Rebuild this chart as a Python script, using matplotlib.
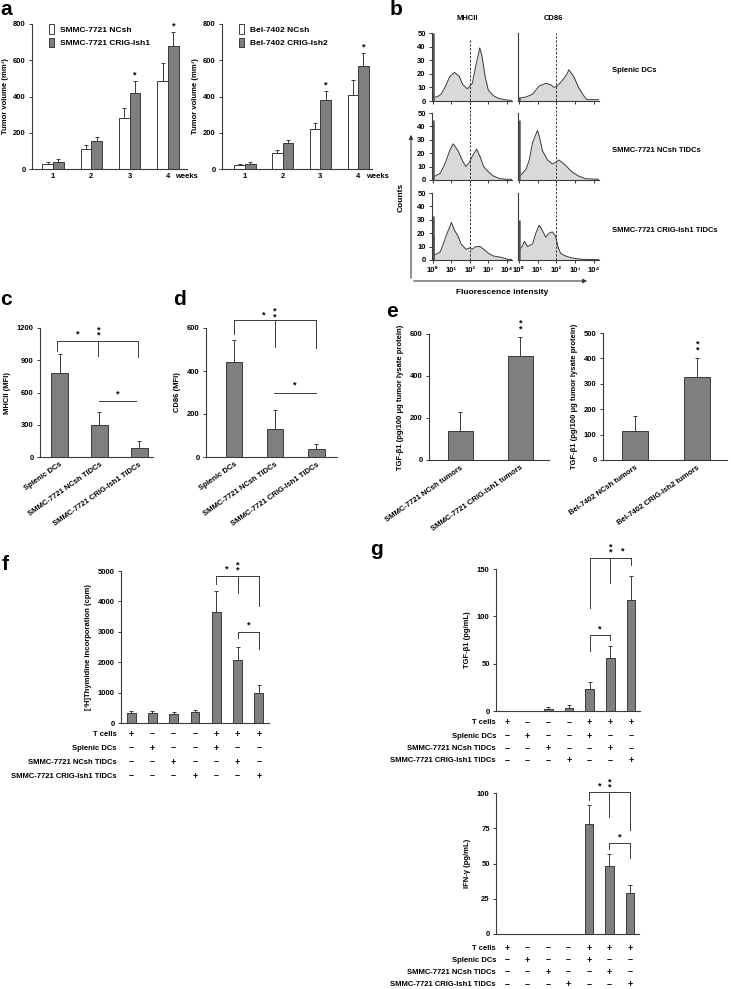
import numpy as np
import matplotlib
matplotlib.use("Agg")
import matplotlib.pyplot as plt
from matplotlib.patches import Patch, FancyArrowPatch
from matplotlib.transforms import blended_transform_factory

plt.rcParams['font.family'] = ['Liberation Sans', 'DejaVu Sans']
plt.rcParams['font.weight'] = 'bold'
plt.rcParams['axes.labelweight'] = 'bold'

DARK = '#3a3a3a'
GRAY = '#7f7f7f'
FILL = '#d9d9d9'
TS = 5.5

# ---- panel a: tumor volume ----
weeks = ['1', '2', '3', '4']
a1_ncsh = [30, 110, 280, 487]
a1_ncsh_err = [10, 22, 55, 98]
a1_crig = [38, 153, 418, 678]
a1_crig_err = [18, 25, 65, 80]
a2_ncsh = [20, 88, 218, 410]
a2_ncsh_err = [8, 18, 38, 82]
a2_crig = [27, 142, 380, 568]
a2_crig_err = [13, 20, 48, 70]

# ---- panel b: flow histograms (log10 intensity, counts) ----
mhc_splenic_x = [0.05, 0.23, 0.45, 0.66, 0.92, 1.18, 1.44, 1.62, 1.88, 2.14, 2.31, 2.54, 2.66, 2.83, 3.0, 3.27, 3.53, 3.88, 4.14, 4.25]
mhc_splenic_y = [3, 3, 5, 10, 18, 21, 18, 12, 9, 13, 25, 39, 33, 18, 8, 4, 2, 1, 0.5, 0.5]
cd86_splenic_x = [0.03, 0.39, 0.74, 0.91, 1.09, 1.44, 1.70, 1.88, 2.05, 2.32, 2.58, 2.67, 2.93, 3.19, 3.46, 3.63, 4.25]
cd86_splenic_y = [2, 3, 5, 8, 11, 13, 12, 10, 11, 15, 20, 23, 18, 10, 4, 1, 1]
mhc_ncsh_x = [0.05, 0.14, 0.40, 0.66, 0.92, 1.10, 1.36, 1.62, 1.79, 1.97, 2.14, 2.37, 2.57, 2.75, 3.01, 3.27, 3.62, 4.05, 4.25]
mhc_ncsh_y = [3, 3, 5, 12, 22, 27, 22, 14, 10, 13, 18, 23, 17, 10, 6, 3, 1, 0.5, 0.5]
cd86_ncsh_x = [0.05, 0.21, 0.39, 0.56, 0.74, 1.0, 1.09, 1.26, 1.53, 1.79, 1.96, 2.14, 2.49, 2.84, 3.19, 3.54, 4.25]
cd86_ncsh_y = [3, 5, 8, 15, 28, 37, 33, 22, 15, 12, 13, 15, 11, 6, 3, 1, 0.5]
mhc_crig_x = [0.05, 0.14, 0.40, 0.57, 0.75, 1.01, 1.18, 1.36, 1.53, 1.79, 1.97, 2.14, 2.31, 2.57, 2.75, 3.01, 3.27, 3.70, 4.05, 4.25]
mhc_crig_y = [4, 4, 6, 12, 19, 28, 22, 18, 12, 8, 9, 8, 10, 10, 8, 5, 3, 2, 0.5, 0.5]
cd86_crig_x = [0.05, 0.18, 0.30, 0.47, 0.74, 0.91, 1.09, 1.26, 1.44, 1.61, 1.79, 1.96, 2.09, 2.23, 2.49, 2.84, 3.37, 4.25]
cd86_crig_y = [8, 10, 14, 10, 12, 20, 26, 22, 17, 20, 21, 18, 10, 5, 3, 1.5, 0.5, 0.3]
mhc_spike = [50, 45, 33]
cd86_spike = [3, 45, 30]
row_names = ['Splenic DCs', 'SMMC-7721 NCsh TIDCs', 'SMMC-7721 CRIG-Ish1 TIDCs']

# ---- panels c, d ----
dc_groups = ['Splenic DCs', 'SMMC-7721 NCsh TIDCs', 'SMMC-7721 CRIG-Ish1 TIDCs']
mhc_mfi = [785, 300, 85]
mhc_mfi_err = [170, 115, 62]
cd86_mfi = [440, 130, 38]
cd86_mfi_err = [105, 88, 24]

# ---- panel e ----
e1_groups = ['SMMC-7721 NCsh tumors', 'SMMC-7721 CRIG-Ish1 tumors']
e1_tgf = [140, 497]
e1_tgf_err = [88, 89]
e2_groups = ['Bel-7402 NCsh tumors', 'Bel-7402 CRIG-Ish2 tumors']
e2_tgf = [116, 328]
e2_tgf_err = [56, 74]

# ---- panels f, g ----
combo_rows = ['T cells', 'Splenic DCs', 'SMMC-7721 NCsh TIDCs', 'SMMC-7721 CRIG-Ish1 TIDCs']
combo_signs = [[1, 0, 0, 0, 1, 1, 1],
               [0, 1, 0, 0, 1, 0, 0],
               [0, 0, 1, 0, 0, 1, 0],
               [0, 0, 0, 1, 0, 0, 1]]
thymidine = [320, 330, 295, 350, 3650, 2070, 990]
thymidine_err = [65, 80, 65, 90, 690, 435, 275]
tgf_ml = [0, 0, 2, 3, 23, 56, 117]
tgf_ml_err = [0, 0, 2, 3, 8, 13, 26]
ifn = [0, 0, 0, 0, 78, 48, 29]
ifn_err = [0, 0, 0, 0, 13.5, 9, 6]

W, H = 731, 989
fig = plt.figure(figsize=(W / 100, H / 100), dpi=100)


def add_box(l, t, r, b):
    return fig.add_axes([l / W, 1 - b / H, (r - l) / W, (b - t) / H])


def style(ax):
    for s in ['top', 'right']:
        ax.spines[s].set_visible(False)
    for s in ['left', 'bottom']:
        ax.spines[s].set_color(DARK)
        ax.spines[s].set_linewidth(0.8)
    ax.tick_params(axis='y', direction='out', length=2.5, width=0.7, color=DARK, labelsize=TS, pad=2)
    ax.tick_params(axis='x', length=0, labelsize=TS, pad=3)


def bars(ax, x, vals, err, width, color=GRAY):
    ax.bar(x, vals, width=width, color=color, edgecolor=DARK, linewidth=0.7, zorder=2)
    ax.errorbar(x, vals, yerr=[np.zeros(len(vals)), err], fmt='none', ecolor=DARK,
                elinewidth=0.7, capsize=1.3, capthick=0.7, zorder=3)


def bracket(ax, x0, x1, y, legs):
    ax.plot([x0, x1], [y, y], color=DARK, lw=0.7, clip_on=False)
    for x, yb in legs:
        ax.plot([x, x], [y, yb], color=DARK, lw=0.7, clip_on=False)


def star(ax, x, y, n=1):
    ax.text(x, y, '\n'.join(['*'] * n), ha='center', va='bottom', fontsize=6.5,
            linespacing=0.45, clip_on=False)


def panel_label(letter, x, y):
    fig.text(x / W, 1 - y / H, letter, fontsize=15, fontweight='bold', va='top', ha='left')


def combo(ax, offsets, label_x):
    h = ax.get_position().height * H
    tr = blended_transform_factory(ax.transData, ax.transAxes)
    for lab, row, off in zip(combo_rows, combo_signs, offsets):
        y = -off / h
        ax.text(label_x, y, lab, transform=ax.transAxes, ha='right', va='center', fontsize=TS)
        for i, s in enumerate(row):
            ax.text(i, y, '+' if s else '\u2013', transform=tr, ha='center', va='center', fontsize=TS + 1)


# ================= panel a =================
for (l, r, xl, n_v, n_e, c_v, c_e, names, wx) in [
        (32, 187, (0.45, 4.5), a1_ncsh, a1_ncsh_err, a1_crig, a1_crig_err,
         ['SMMC-7721 NCsh', 'SMMC-7721 CRIG-Ish1'], 4.18),
        (222, 372, (0.39, 4.37), a2_ncsh, a2_ncsh_err, a2_crig, a2_crig_err,
         ['Bel-7402 NCsh', 'Bel-7402 CRIG-Ish2'], 4.2)]:
    ax = add_box(l, 24, r, 169)
    style(ax)
    x = np.arange(1, 5)
    w = 0.28
    bars(ax, x - w / 2, n_v, n_e, w, color='white')
    bars(ax, x + w / 2, c_v, c_e, w, color=GRAY)
    for i in [2, 3]:
        star(ax, x[i] + w / 2, c_v[i] + c_e[i] + 8)
    ax.set_xlim(*xl)
    ax.set_ylim(0, 800)
    ax.set_yticks([0, 200, 400, 600, 800])
    ax.set_xticks(x)
    ax.set_xticklabels(weeks)
    ax.text(wx, -0.055, 'weeks', transform=blended_transform_factory(ax.transData, ax.transAxes),
            ha='left', va='center', fontsize=TS)
    ax.set_ylabel('Tumor volume (mm\u00b3)', fontsize=TS, labelpad=3)
    ax.legend(handles=[Patch(fc='white', ec=DARK, lw=0.7), Patch(fc=GRAY, ec=DARK, lw=0.7)],
              labels=names, loc='upper left', bbox_to_anchor=(0.06, 1.05), frameon=False,
              fontsize=TS + 0.5, handlelength=0.6, handleheight=1.4, handletextpad=0.8,
              labelspacing=0.45)
panel_label('a', 0, 0)

# ================= panel b =================
hist = [[(mhc_splenic_x, mhc_splenic_y), (cd86_splenic_x, cd86_splenic_y)],
        [(mhc_ncsh_x, mhc_ncsh_y), (cd86_ncsh_x, cd86_ncsh_y)],
        [(mhc_crig_x, mhc_crig_y), (cd86_crig_x, cd86_crig_y)]]
rows_px = [(33, 101), (113, 180), (193, 260)]
cols_px = [(432, 512), (518, 599)]
spikes = [mhc_spike, cd86_spike]
decade_labels = ['10\u2070', '10\u00b9', '10\u00b2', '10\u00b3', '10\u2074']
for ri, (t, b) in enumerate(rows_px):
    for ci, (l, r) in enumerate(cols_px):
        ax = add_box(l, t, r, b)
        style(ax)
        hx, hy = hist[ri][ci]
        xs = 10 ** np.array(hx)
        ax.fill_between(xs, hy, color=FILL, lw=0)
        ax.plot(xs, hy, color=DARK, lw=0.7)
        ax.vlines(10 ** 0.02, 0, spikes[ci][ri], color='#555555', lw=1.8)
        if ri == 2 and ci == 0:
            ax.vlines(10 ** 0.09, 0, 18, color='#555555', lw=1.2)
        ax.set_xscale('log')
        ax.set_xlim(10 ** -0.04, 10 ** 4.28)
        ax.set_ylim(0, 50)
        ax.set_xticks([1, 10, 100, 1000, 10000])
        ax.minorticks_off()
        ax.tick_params(axis='x', length=2, width=0.7, color=DARK, direction='out')
        if ri == 2:
            ax.set_xticklabels(decade_labels, fontsize=TS)
        else:
            ax.set_xticklabels([])
        if ci == 0:
            ax.set_yticks([0, 10, 20, 30, 40, 50])
        else:
            ax.set_yticks([])
    fig.text(612 / W, 1 - ((t + b) / 2 + 4) / H, row_names[ri], fontsize=TS, va='center', ha='left')

for (l, r), top in zip(cols_px, [0.975, 1.0]):
    ov = add_box(l, 33, r, 260)
    ov.set_xscale('log')
    ov.set_xlim(10 ** -0.04, 10 ** 4.28)
    ov.axvline(100, ymin=0, ymax=top, color=DARK, lw=0.7, ls=(0, (2.5, 1.5)))
    ov.axis('off')
fig.text(467 / W, 1 - 18 / H, 'MHCII', fontsize=TS, ha='center', va='center')
fig.text(553 / W, 1 - 18 / H, 'CD86', fontsize=TS, ha='center', va='center')
for p0, p1 in [((411, 281), (411, 132)), ((411, 281), (590, 281))]:
    fig.add_artist(FancyArrowPatch((p0[0] / W, 1 - p0[1] / H), (p1[0] / W, 1 - p1[1] / H),
                                   transform=fig.transFigure, arrowstyle='-|>',
                                   mutation_scale=6, lw=0.8, color=DARK))
fig.text(401 / W, 1 - 197 / H, 'Counts', rotation=90, fontsize=TS + 0.5, ha='center', va='center')
fig.text(502 / W, 1 - 293 / H, 'Fluorescence intensity', fontsize=TS + 0.5, ha='center', va='center')
panel_label('b', 390, 0)

# ================= panel c =================
ax = add_box(40, 328, 153, 457)
style(ax)
xc = np.arange(3)
bars(ax, xc, mhc_mfi, mhc_mfi_err, 0.43)
ax.set_xlim(-0.5, 2.35)
ax.set_ylim(0, 1200)
ax.set_yticks([0, 300, 600, 900, 1200])
ax.set_xticks(xc)
ax.set_xticklabels(dc_groups, rotation=35, ha='right', rotation_mode='anchor', fontsize=TS)
ax.set_ylabel('MHCII (MFI)', fontsize=TS, labelpad=4)
bracket(ax, -0.08, 1.98, 1077, [(-0.08, 985), (0.97, 940), (1.98, 930)])
star(ax, 0.45, 1100)
star(ax, 0.99, 1095, 2)
bracket(ax, 0.99, 1.93, 521, [])
star(ax, 1.45, 540)
panel_label('c', 0, 290)

# ================= panel d =================
ax = add_box(206, 328, 337, 457)
style(ax)
bars(ax, xc, cd86_mfi, cd86_mfi_err, 0.4)
ax.set_xlim(-0.68, 2.5)
ax.set_ylim(0, 600)
ax.set_yticks([0, 200, 400, 600])
ax.set_xticks(xc)
ax.set_xticklabels(dc_groups, rotation=35, ha='right', rotation_mode='anchor', fontsize=TS)
ax.set_ylabel('CD86 (MFI)', fontsize=TS, labelpad=4)
bracket(ax, 0.0, 2.0, 637, [(0.0, 572), (1.0, 512), (2.0, 507)])
star(ax, 0.71, 640)
star(ax, 0.98, 632, 2)
bracket(ax, 0.98, 2.0, 300, [])
star(ax, 1.48, 315)
panel_label('d', 173, 290)

# ================= panel e =================
for (l, r, t, groups, vals, err, ymax, step) in [
        (429, 549, 334, e1_groups, e1_tgf, e1_tgf_err, 600, 200),
        (603, 727, 333, e2_groups, e2_tgf, e2_tgf_err, 500, 100)]:
    ax = add_box(l, t, r, 460)
    style(ax)
    xe = np.arange(2)
    bars(ax, xe, vals, err, 0.42)
    star(ax, 1, vals[1] + err[1] + ymax * 0.03, 2)
    ax.set_xlim(-0.52, 1.48)
    ax.set_ylim(0, ymax)
    ax.set_yticks(np.arange(0, ymax + 1, step))
    ax.set_xticks(xe)
    ax.set_xticklabels(groups, rotation=35, ha='right', rotation_mode='anchor', fontsize=TS)
    ax.set_ylabel('TGF-\u03b21 (pg/100 \u03bcg tumor lysate protein)', fontsize=TS, labelpad=4)
panel_label('e', 386, 302)

# ================= panel f =================
x7 = np.arange(7)
ax = add_box(121, 571, 269, 723)
style(ax)
bars(ax, x7, thymidine, thymidine_err, 0.42)
ax.set_xlim(-0.47, 6.47)
ax.set_ylim(0, 5000)
ax.set_yticks(np.arange(0, 5001, 1000))
ax.set_xticks([])
ax.set_ylabel('[\u00b3H]Thymidine incorporation (cpm)', fontsize=TS, labelpad=4)
bracket(ax, 4, 6, 4830, [(4, 4580), (5, 4290), (6, 3850)])
star(ax, 4.5, 4900)
star(ax, 5.02, 4880, 2)
bracket(ax, 5, 6, 3000, [(5, 2800), (6, 2440)])
star(ax, 5.5, 3060)
combo(ax, [11, 25, 39, 53], -0.03)
panel_label('f', 2, 555)

# ================= panel g =================
ax = add_box(496, 569, 640, 711)
style(ax)
bars(ax, x7, tgf_ml, tgf_ml_err, 0.42)
ax.set_xlim(-0.53, 6.44)
ax.set_ylim(0, 150)
ax.set_yticks([0, 50, 100, 150])
ax.set_xticks([])
ax.set_ylabel('TGF-\u03b21 (pg/mL)', fontsize=TS, labelpad=4)
bracket(ax, 4, 6, 162, [(4, 109), (5, 135), (6, 154)])
star(ax, 5.02, 163, 2)
star(ax, 5.6, 164)
bracket(ax, 4, 5, 80, [(4, 63), (5, 75)])
star(ax, 4.5, 82)
combo(ax, [12, 25, 38, 50], 0.0)
panel_label('g', 370, 540)

ax = add_box(496, 793, 639, 934)
style(ax)
bars(ax, x7, ifn, ifn_err, 0.42)
ax.set_xlim(-0.53, 6.44)
ax.set_ylim(0, 100)
ax.set_yticks([0, 25, 50, 75, 100])
ax.set_xticks([])
ax.set_ylabel('IFN-\u03b3 (pg/mL)', fontsize=TS, labelpad=4)
bracket(ax, 4, 6, 100.7, [(4, 95), (5, 83), (6, 73.5)])
star(ax, 4.5, 101.5)
star(ax, 5.02, 101, 2)
bracket(ax, 5, 6, 64.5, [(5, 60), (6, 54)])
star(ax, 5.5, 65.5)
combo(ax, [14, 26, 38, 51], 0.0)

fig.savefig('out.png', dpi=100)
